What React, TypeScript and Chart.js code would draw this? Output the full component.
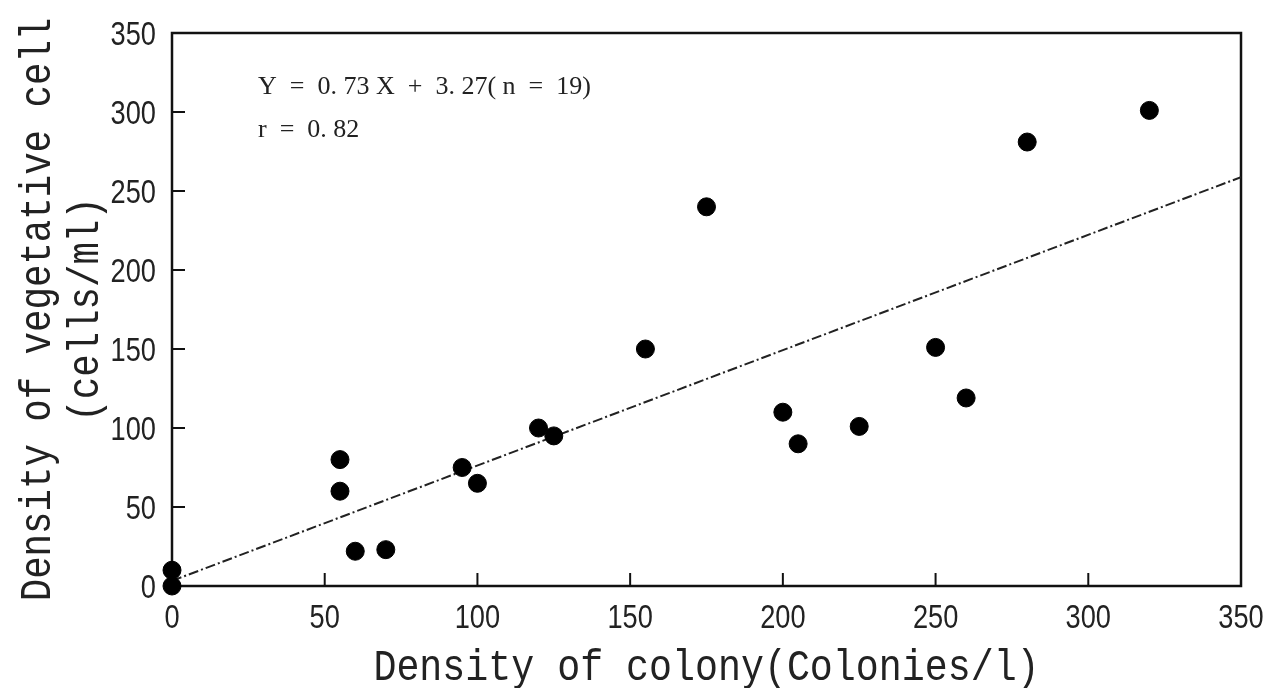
import React, { useEffect, useRef } from "react";
import { Chart, registerables } from "chart.js";

Chart.register(...registerables);

const colonyDensity = [0, 0, 55, 55, 60, 70, 95, 100, 120, 125, 155, 175, 200, 205, 225, 250, 260, 280, 320];
const cellDensity = [10, 0, 80, 60, 22, 23, 75, 65, 100, 95, 150, 240, 110, 90, 101, 151, 119, 281, 301];
const fitX = [0, 350];
const fitY = [3.27, 258.77];
const tickValues = [0, 50, 100, 150, 200, 250, 300, 350];
const xTitle = "Density of colony(Colonies/l)";
const yTitle = ["Density of vegetative cell", "(cells/ml)"];
const annotation = ["Y  =  0. 73 X  +  3. 27( n  =  19)", "r  =  0. 82"];

const TICK_FONT = "34px 'Liberation Sans', Arial, sans-serif";
const TITLE_FONT = "44px 'Liberation Mono', 'DejaVu Sans Mono', monospace";
const TEXT_COLOR = "#222";

function squeezedText(ctx: CanvasRenderingContext2D, text: string, x: number, y: number, sx: number, rot: number, align: CanvasTextAlign) {
  ctx.save();
  ctx.translate(x, y);
  ctx.rotate(rot);
  ctx.scale(sx, 1);
  ctx.textAlign = align;
  ctx.fillText(text, 0, 0);
  ctx.restore();
}

const framePlugin = {
  id: "frame",
  beforeDatasetsDraw(chart: any) {
    const { ctx, chartArea: a, scales } = chart;
    ctx.save();
    ctx.strokeStyle = "#111";
    ctx.lineWidth = 2.5;
    ctx.strokeRect(a.left, a.top, a.right - a.left, a.bottom - a.top);
    ctx.lineWidth = 2;
    const len = 13;
    for (const v of tickValues) {
      if (v === 0 || v === 350) continue;
      const px = scales.x.getPixelForValue(v);
      ctx.beginPath();
      ctx.moveTo(px, a.bottom);
      ctx.lineTo(px, a.bottom - len);
      ctx.stroke();
      const py = scales.y.getPixelForValue(v);
      ctx.beginPath();
      ctx.moveTo(a.left, py);
      ctx.lineTo(a.left + len, py);
      ctx.stroke();
    }
    // tick labels
    ctx.fillStyle = TEXT_COLOR;
    ctx.font = TICK_FONT;
    ctx.textBaseline = "alphabetic";
    for (const v of tickValues) {
      const px = scales.x.getPixelForValue(v);
      squeezedText(ctx, String(v), px, a.bottom + 42, 0.8, 0, "center");
      const py = scales.y.getPixelForValue(v);
      squeezedText(ctx, String(v), a.left - 16, py + 12, 0.8, 0, "right");
    }
    // axis titles
    ctx.font = TITLE_FONT;
    const cx = (a.left + a.right) / 2;
    const cy = (a.top + a.bottom) / 2;
    squeezedText(ctx, xTitle, cx, 680, 0.87, 0, "center");
    squeezedText(ctx, yTitle[0], 50, cy, 0.85, -Math.PI / 2, "center");
    squeezedText(ctx, yTitle[1], 98, cy, 0.85, -Math.PI / 2, "center");
    ctx.restore();
  },
  afterDatasetsDraw(chart: any) {
    const { ctx, chartArea: a } = chart;
    ctx.save();
    ctx.fillStyle = TEXT_COLOR;
    ctx.font = "26px 'Liberation Serif', 'DejaVu Serif', serif";
    ctx.textBaseline = "alphabetic";
    ctx.textAlign = "left";
    ctx.fillText(annotation[0], a.left + 86, a.top + 61);
    ctx.fillText(annotation[1], a.left + 86, a.top + 104);
    ctx.restore();
  },
};

export default function App() {
  const ref = useRef<HTMLCanvasElement>(null);
  useEffect(() => {
    if (!ref.current) return;
    const chart = new Chart(ref.current, {
      type: "scatter",
      data: {
        datasets: [
          {
            type: "line",
            data: fitX.map((x, i) => ({ x, y: fitY[i] })),
            borderColor: "#222",
            borderWidth: 2,
            borderDash: [10, 3, 2, 3],
            pointRadius: 0,
            fill: false,
            order: 2,
          } as any,
          {
            type: "scatter",
            data: colonyDensity.map((x, i) => ({ x, y: cellDensity[i] })),
            backgroundColor: "#000",
            borderColor: "#000",
            pointRadius: 9,
            pointHoverRadius: 9,
            clip: false,
            order: 1,
          } as any,
        ],
      },
      plugins: [framePlugin],
      options: {
        animation: false,
        responsive: true,
        maintainAspectRatio: false,
        layout: { padding: { left: 0, top: 33, right: 31, bottom: 0 } },
        plugins: { legend: { display: false }, tooltip: { enabled: false } },
        scales: {
          x: {
            type: "linear",
            min: 0,
            max: 350,
            afterFit: (s: any) => { s.height = 102; },
            grid: { display: false, drawTicks: false },
            border: { display: false },
            ticks: { display: false },
          },
          y: {
            type: "linear",
            min: 0,
            max: 350,
            afterFit: (s: any) => { s.width = 172; },
            grid: { display: false, drawTicks: false },
            border: { display: false },
            ticks: { display: false },
          },
        },
      },
    } as any);
    return () => chart.destroy();
  }, []);
  return (
    <div style={{ position: "fixed", left: 0, top: 0, width: 1272, height: 688, background: "#fff" }}>
      <canvas ref={ref} />
    </div>
  );
}
